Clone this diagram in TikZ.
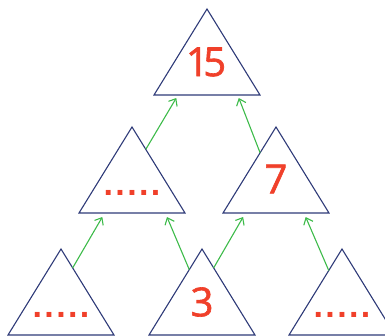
\documentclass[tikz,border=0pt]{standalone}
\usepackage{fontspec}
\setmainfont{Open Sans}
\newfontfamily\numfont[FakeBold=1.6,LetterSpace=-14]{Open Sans}
\newfontfamily\dotfont[LetterSpace=7]{Liberation Sans}
\usetikzlibrary{arrows.meta,calc}

\definecolor{triline}{HTML}{2E3A78}
\definecolor{numred}{HTML}{F0402A}
\definecolor{arrgreen}{HTML}{3DBB4A}

% triangle: name, apex x, apex y
\newcommand{\tri}[3]{%
    \coordinate (#1-t) at (#2,#3);
    \coordinate (#1-l) at ($(#1-t)+(-53,86)$);
    \coordinate (#1-r) at ($(#1-t)+(53,86)$);
    \draw[block] (#1-t) -- (#1-l) -- (#1-r) -- cycle;
}

\begin{document}
\begin{tikzpicture}[
    x=1pt,
    y=-1pt,
    block/.style={
        draw=triline,
        line width=1.1pt,
        line join=miter
    },
    number/.style={
        text=numred,
        inner sep=0pt,
        font=\numfont\fontsize{40}{40}\selectfont
    },
    blank/.style={
        text=numred,
        inner sep=0pt,
        font=\dotfont\bfseries\fontsize{34}{34}\selectfont
    },
    carry/.style={
        -{Straight Barb[length=6pt,width=10pt]},
        draw=arrgreen,
        line width=1.1pt
    }
]

\useasboundingbox (0,0) rectangle (385,335);

% ==================================================
% Triangles
% ==================================================

\tri{top}{207}{9}
\tri{ml}{132}{127}
\tri{mr}{276}{127}
\tri{bl}{61}{249}
\tri{bm}{202}{249}
\tri{br}{342}{249}

% ==================================================
% Numbers and blanks
% ==================================================

\node[number] (sum) at ($(top-t)+(-1,53)$) {15};

\node[blank] (gapml) at ($(ml-t)+(0,66)$) {.....};
\node[number] (seven) at ($(mr-t)+(0,52)$) {7};

\node[blank] (gapbl) at ($(bl-t)+(0,66)$) {.....};
\node[number] (three) at ($(bm-t)+(0,53)$) {3};
\node[blank] (gapbr) at ($(br-t)+(0,66)$) {.....};

% ==================================================
% Arrows upwards
% ==================================================

% bottom row to middle row
\draw[carry] ($(bl-t)!0.22!(bl-r)$) -- ($(ml-l)!0.22!(ml-r)+(0,4)$);
\draw[carry] ($(bm-t)!0.24!(bm-l)$) -- ($(ml-l)!0.83!(ml-r)+(0,4)$);
\draw[carry] ($(bm-t)!0.22!(bm-r)$) -- ($(mr-l)!0.19!(mr-r)+(0,4)$);
\draw[carry] ($(br-t)!0.25!(br-l)$) -- ($(mr-l)!0.78!(mr-r)+(0,4)$);

% middle row to top
\draw[carry] ($(ml-t)!0.26!(ml-r)$) -- ($(top-l)!0.21!(top-r)+(0,3)$);
\draw[carry] ($(mr-t)!0.3!(mr-l)$) -- ($(top-l)!0.8!(top-r)+(0,3)$);

\end{tikzpicture}
\end{document}
